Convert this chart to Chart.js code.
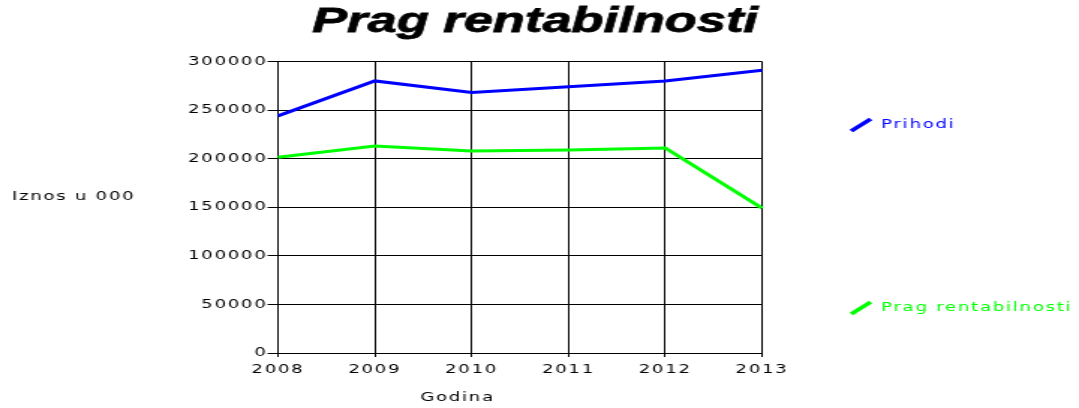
<!DOCTYPE html>
<html>
<head>
<meta charset="utf-8">
<script src="https://cdn.jsdelivr.net/npm/chart.js@4/dist/chart.umd.min.js"></script>
<style>
  html, body { margin: 0; padding: 0; background: #fff; overflow: hidden; }
  #wrap {
    width: 720px;
    height: 408px;
    transform: scaleX(1.4986);
    transform-origin: 0 0;
  }
</style>
</head>
<body>
<div id="wrap"><canvas id="chart"></canvas></div>
<script>
const years = ['2008', '2009', '2010', '2011', '2012', '2013'];
const prihodi = [244000, 280000, 268000, 274000, 280000, 291000];
const pragRentabilnosti = [201500, 213000, 208000, 209000, 211000, 149000];
const yMin = 0;
const yMax = 300000;
const yStep = 50000;

const blue = '#0000ff';
const green = '#00ff00';
const smallFont = { family: 'DejaVu Sans', size: 12 };
const spacing = '1.2px';

// titles and the side legend are drawn by hand, the reference spreads them oddly
const decorPlugin = {
    id: 'decor',
    beforeDraw(chart) {
        chart.ctx.letterSpacing = spacing;
    },
    afterDraw(chart) {
        const ctx = chart.ctx;
        const area = chart.chartArea;
        ctx.save();

        ctx.letterSpacing = '0px';
        ctx.fillStyle = '#000';
        ctx.strokeStyle = '#000';
        ctx.lineWidth = 0.8;
        ctx.font = 'bold italic 35px "Liberation Sans"';
        ctx.textAlign = 'center';
        ctx.textBaseline = 'middle';
        ctx.fillText('Prag rentabilnosti', 357, 22);
        ctx.strokeText('Prag rentabilnosti', 357, 22);

        ctx.letterSpacing = spacing;
        ctx.font = '12px "DejaVu Sans"';
        ctx.textAlign = 'left';
        ctx.fillText('Iznos u 000', 8, 197);
        ctx.textAlign = 'center';
        ctx.fillText('Godina', area.left + area.width * 0.371, 398);

        const items = [
            { label: chart.data.datasets[0].label, color: blue, y: 125 },
            { label: chart.data.datasets[1].label, color: green, y: 308 },
        ];
        items.forEach((it) => {
            ctx.strokeStyle = it.color;
            ctx.lineWidth = 3.5;
            ctx.beginPath();
            ctx.moveTo(568, it.y + 6);
            ctx.lineTo(581, it.y - 6);
            ctx.stroke();
            ctx.fillStyle = it.color;
            ctx.textAlign = 'left';
            ctx.fillText(it.label, 588, it.y);
        });

        ctx.restore();
    },
};

new Chart(document.getElementById('chart'), {
    type: 'line',
    data: {
        labels: years,
        datasets: [
            {
                label: 'Prihodi',
                data: prihodi,
                borderColor: blue,
                backgroundColor: blue,
                borderWidth: 3,
                pointRadius: 0,
                tension: 0,
            },
            {
                label: 'Prag rentabilnosti',
                data: pragRentabilnosti,
                borderColor: green,
                backgroundColor: green,
                borderWidth: 3,
                pointRadius: 0,
                tension: 0,
            },
        ],
    },
    options: {
        responsive: true,
        maintainAspectRatio: false,
        animation: false,
        layout: {
            padding: { left: 0, right: 211.5, top: 61.5, bottom: 0 },
        },
        scales: {
            x: {
                offset: false,
                afterFit(scale) { scale.height = 55; },
                border: { color: '#000', width: 1 },
                grid: { color: '#000', lineWidth: 1, tickLength: 4, tickColor: '#000' },
                ticks: {
                    color: '#000',
                    font: smallFont,
                    padding: 6,
                    maxRotation: 0,
                    autoSkip: false,
                },
            },
            y: {
                min: yMin,
                max: yMax,
                afterFit(scale) { scale.width = 185.5; },
                border: { color: '#000', width: 1 },
                grid: { color: '#000', lineWidth: 1, tickLength: 7, tickColor: '#000' },
                ticks: {
                    stepSize: yStep,
                    color: '#000',
                    font: smallFont,
                    padding: 0,
                    callback: (v) => String(v),
                },
            },
        },
        plugins: {
            legend: { display: false },
            title: { display: false },
            tooltip: { enabled: false },
        },
    },
    plugins: [decorPlugin],
});
</script>
</body>
</html>
